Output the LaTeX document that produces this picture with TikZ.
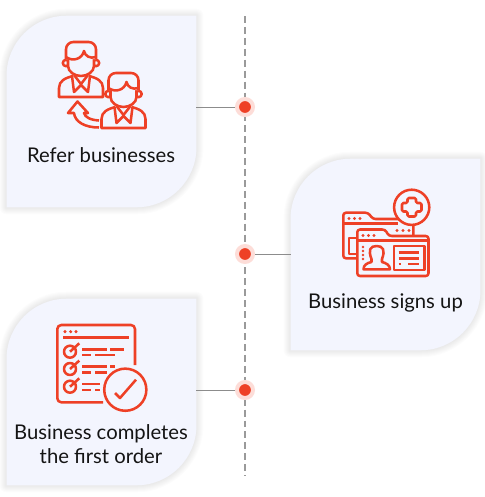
\documentclass[tikz,border=0pt]{standalone}
\usepackage{xcolor}
\usepackage{fontspec}
\setmainfont{Lato}
\usetikzlibrary{arrows.meta,positioning,calc}
\definecolor{iconRed}{HTML}{EE4026}
\definecolor{haloRed}{HTML}{FDDDD8}
\definecolor{cardBlue}{HTML}{F3F5FE}
\definecolor{lineGray}{HTML}{9A9A9A}
\definecolor{linkGray}{HTML}{8C8C8C}
\definecolor{inkBlack}{HTML}{141414}
\tikzset{
  card node/.style={rectangle,inner sep=0pt,minimum width=142pt},
  text node/.style={inner sep=0pt,align=center,text=inkBlack,font=\fontsize{15.2pt}{18pt}\selectfont},
  dot node/.style={circle,inner sep=0pt,minimum size=12pt,fill=iconRed,
    draw=haloRed,line width=3pt},
  timeline/.style={draw=lineGray,line width=1.7pt,dash pattern=on 5.2pt off 3pt},
  link/.style={draw=linkGray,line width=0.75pt},
  icon/.style={draw=iconRed,line width=1.9pt,line join=round},
  person/.pic={
    \draw[icon] (7,21) circle[radius=2.4pt] (37,21) circle[radius=2.4pt];
    \draw[icon,fill=cardBlue] (9,15) -- (9,24) .. controls (9,30) and (16,34) .. (22,34)
      .. controls (28,34) and (35,30) .. (35,24) -- (35,15) -- cycle;
    \draw[icon,fill=cardBlue,rounded corners=5.5pt] (7,17) -- (7,0) -- (37,0) -- (37,17);
    \draw[icon] (7,15) .. controls (14,20) and (23,17) .. (25,9)
      .. controls (26,14) and (31,17) .. (37,15);
    \draw[icon] (14,34) .. controls (6,36) and (0,39) .. (0,46) -- (0,55) -- (44,55)
      -- (44,46) .. controls (44,39) and (38,36) .. (30,34);
    \draw[icon] (13,34) -- (15,50) -- (22,43) -- (29,50) -- (31,34);
    \draw[icon] (15,33) -- (22,42) -- (29,33);
  }
}
% leaf shaped panel over a named card node
\newcommand{\leafcard}[1]{
  \foreach \w in {2,4,...,14}
    \draw[draw=black,opacity=0.012,line width=\w*0.75pt,line join=round]
      (#1.south west) [rounded corners=45pt] -- (#1.north west) [sharp corners]
      -- (#1.north east) [rounded corners=45pt] -- (#1.south east) [sharp corners]
      -- cycle;
  \fill[cardBlue] (#1.south west) [rounded corners=45pt] -- (#1.north west) [sharp corners]
      -- (#1.north east) [rounded corners=45pt] -- (#1.south east) [sharp corners]
      -- cycle;
}
\begin{document}
\begin{tikzpicture}[x=0.75pt,y=-0.75pt]
  \useasboundingbox (0,0) rectangle (485,497);
  \coordinate (lineTop) at (245,16);
  \coordinate (lineBot) at (245,476);
  \draw[timeline] (lineTop) -- (lineBot);
  % cards
  \node[card node,minimum height=143.25pt] (refer) at (101.5,111.5) {};
  \node[card node,minimum height=143.25pt] (signup) at (385.5,254.5) {};
  \node[card node,minimum height=139.5pt] (order) at (101.5,392) {};
  \leafcard{refer}
  \leafcard{signup}
  \leafcard{order}
  % timeline dots
  \node[dot node] (dotRefer) at (245,107) {};
  \node[dot node] (dotSignup) at (245,254) {};
  \node[dot node] (dotOrder) at (245,390) {};
  \draw[link] (refer.east |- dotRefer) -- (dotRefer);
  \draw[link] (signup.west |- dotSignup) -- (dotSignup);
  \draw[link] (order.east |- dotOrder) -- (dotOrder);
  % labels
  \node[text node] (referText) at (101,155) {Refer businesses};
  \node[text node] (signupText) at (385.5,303) {Business signs up};
  \node[text node] (orderText) at (101,444) {Business completes\\the first order};
  % people icon
  \pic at (59,42) {person};
  \pic at (101.5,73) {person};
  \draw[icon] (99,127.5) .. controls (85,127.5) and (75,122) .. (74,113) -- (68,113)
    -- (77.5,101.5) -- (88,113) -- (84,113) .. controls (85,117) and (90,120) .. (99,120.5);
  % folder icon
  \draw[icon,rounded corners=2pt] (357,258.3) -- (343.3,258.3) -- (343.3,212.7) -- (368,212.7)
    -- (373,219) -- (413.3,219) -- (413.3,236);
  \draw[icon] (343.3,223.5) -- (398,223.5);
  \draw[icon] (357,238) -- (349,238) -- (349,254) -- (357,254);
  \draw[icon,fill=cardBlue,rounded corners=2pt] (357.3,276) -- (357.3,229.5) -- (385,229.5)
    -- (389,236) -- (428.5,236) -- (428.5,276) -- cycle;
  \draw[icon] (357.3,240.5) -- (428.5,240.5);
  \draw[icon,fill=cardBlue] (411.7,207.3) circle[radius=13.2pt];
  \draw[icon,rounded corners=1pt] (407.5,198) -- (416,198) -- (416,203) -- (421.5,203)
    -- (421.5,211.5) -- (416,211.5) -- (416,216.5) -- (407.5,216.5) -- (407.5,211.5)
    -- (402,211.5) -- (402,203) -- (407.5,203) -- cycle;
  \foreach \x in {349,354.5,360}
    \fill[iconRed] (\x,218.5) circle[radius=1.3pt];
  \foreach \x in {397,403,409}
    \fill[iconRed] (\x,230.5) circle[radius=1.3pt];
  \foreach \x in {363,368.5,374}
    \fill[iconRed] (\x,235.5) circle[radius=1.3pt];
  \foreach \y in {247,251,255,259}
    \fill[iconRed] (363,\y) circle[radius=1pt];
  \draw[icon] (371.5,259) .. controls (368,250) and (370,246) .. (376.7,246)
    .. controls (383,246) and (385.5,250) .. (382,259) -- (382,262)
    .. controls (386,263) and (390,265) .. (390,269.3) -- (363.5,269.3)
    .. controls (363.5,265) and (367,263) .. (371.5,262) -- cycle;
  \draw[icon] (394,246) rectangle (424.3,270);
  \draw[icon] (398.5,252.7) -- (419,252.7);
  \draw[icon] (398.5,258.3) -- (419,258.3);
  \draw[icon] (398.5,264) -- (401,264);
  \draw[icon] (408,264) -- (419,264);
  % checklist icon
  \draw[icon,rounded corners=3pt] (135,365) -- (135,325) -- (57.3,325) -- (57.3,402.3) -- (103,402.3);
  \draw[icon] (63.3,337.3) -- (129.3,337.3);
  \foreach \x in {65,70.7,76}
    \fill[iconRed] (\x,331.7) circle[radius=1.3pt];
  \foreach \y in {351.7,369,386.7} {
    \draw[icon] (70,\y) circle[radius=4.5pt];
    \draw[icon] (70,\y) -- +(9.3,-8.4);
  }
  \draw[icon] (82.3,349.3) -- (106.7,349.3) (110,349.3) -- (124,349.3);
  \draw[icon] (82.3,355) -- (90.7,355) (95,355) -- (115,355);
  \draw[icon] (82.3,366.7) -- (106.7,366.7) (110,366.7) -- (115,366.7);
  \draw[icon] (82.3,372.3) -- (90.7,372.3) (95,372.3) -- (107,372.3);
  \draw[icon] (82.3,384) -- (100,384);
  \draw[icon] (82.3,390) -- (90.7,390) (95,390) -- (100,390);
  \draw[icon,fill=cardBlue] (125.3,389.7) circle[radius=15.8pt];
  \draw[icon] (115,393) -- (120,398) -- (136,379.7);
\end{tikzpicture}
\end{document}
